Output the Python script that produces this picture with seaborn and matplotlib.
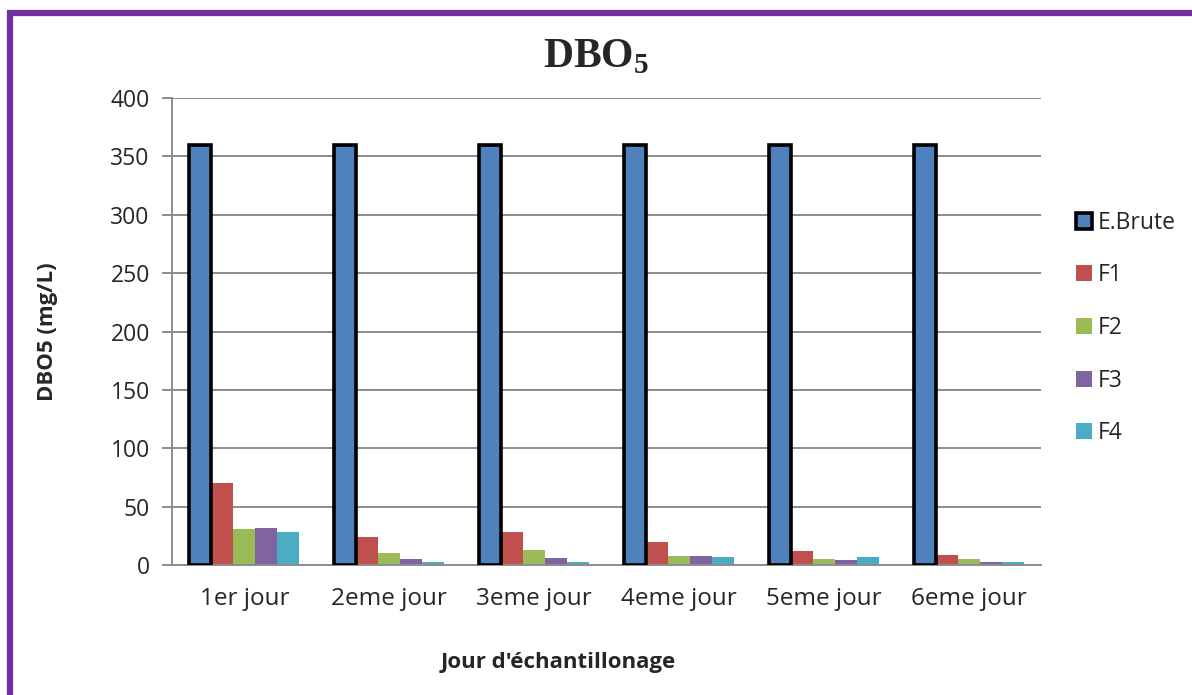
import numpy as np
import pandas as pd
import matplotlib
matplotlib.use("Agg")
import matplotlib.pyplot as plt
import seaborn as sns
from matplotlib.patches import Rectangle

jours = ["1er jour", "2eme jour", "3eme jour", "4eme jour", "5eme jour", "6eme jour"]
series = ["E.Brute", "F1", "F2", "F3", "F4"]
e_brute = [360, 360, 360, 360, 360, 360]
f1 = [70, 24, 28, 20, 12, 9]
f2 = [31, 10, 13, 8, 5, 5]
f3 = [32, 5, 6, 8, 4, 3]
f4 = [28, 3, 3, 7, 7, 3]
colors = ["#4F81BD", "#C0504D", "#9BBB59", "#8064A2", "#4BACC6"]

df = pd.DataFrame({"jour": jours, "E.Brute": e_brute, "F1": f1, "F2": f2, "F3": f3, "F4": f4})
long = df.melt(id_vars="jour", var_name="serie", value_name="val")

sns.set_style("white")
plt.rcParams["font.family"] = ["Open Sans", "DejaVu Sans"]

fig = plt.figure(figsize=(11.92, 6.95), dpi=100)
ax = fig.add_axes([0.1443, 0.187, 0.729, 0.672])

sns.barplot(data=long, x="jour", y="val", hue="serie", hue_order=series,
            palette=colors, width=0.76, saturation=1, ax=ax, legend=False,
            linewidth=0)

# black thick edge on E.Brute bars
for p in ax.containers[0]:
    p.set_edgecolor("black")
    p.set_linewidth(2.6)
    p.set_zorder(3)

ax.set_ylim(0, 400)
ax.set_yticks(range(0, 401, 50))
ax.yaxis.grid(True, color="#8c8c8c", linewidth=1.4)
ax.set_axisbelow(True)
for s in ["top", "right"]:
    ax.spines[s].set_visible(False)
ax.spines["left"].set_color("#8c8c8c")
ax.spines["bottom"].set_color("#8c8c8c")
ax.spines["left"].set_linewidth(1.4)
ax.spines["bottom"].set_linewidth(1.4)
ax.tick_params(axis="y", left=True, length=7, color="#8c8c8c", width=1.4, labelsize=16.5, pad=9)
ax.tick_params(axis="x", bottom=False, labelsize=17.5, pad=12)

ax.set_xlabel("Jour d'échantillonage", fontsize=16, fontweight="bold")
ax.xaxis.set_label_coords(0.444, -0.186)
ax.set_ylabel("DBO5 (mg/L)", fontsize=16, fontweight="bold", labelpad=38)

# legend
handles = []
for i, name in enumerate(series):
    if i == 0:
        h = Rectangle((0, 0), 1, 1, facecolor=colors[i], edgecolor="black", linewidth=2.6)
    else:
        h = Rectangle((0, 0), 1, 1, facecolor=colors[i], edgecolor="none")
    handles.append(h)
fig.legend(handles, series, loc="upper left", bbox_to_anchor=(0.895, 0.71),
           frameon=False, fontsize=16.5, handlelength=0.7, handleheight=0.7,
           handletextpad=0.25, labelspacing=1.25, borderaxespad=0)

# title with subscript
plt.rcParams["mathtext.fontset"] = "custom"
plt.rcParams["mathtext.rm"] = "Liberation Serif:bold"
fig.text(0.5, 0.918, r"DBO$_{\mathrm{5}}$", ha="center", va="center",
         fontsize=30, fontweight="bold", family="Liberation Serif")

# purple frame
fig.patches.append(Rectangle((0.0080, -0.05), 1.1, 1.0314, transform=fig.transFigure,
                             fill=False, edgecolor="#7030A0", linewidth=4.5))

fig.savefig("out.png", dpi=100)
